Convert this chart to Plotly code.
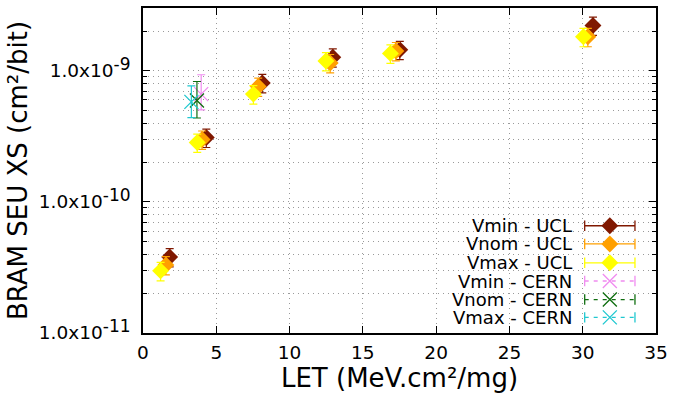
import plotly.graph_objects as go
import numpy as np

# ---------------- data ----------------
let_vmin_ucl = [1.82, 4.32, 8.14, 12.95, 17.52, 30.70]
xs_vmin_ucl = [3.8e-11, 3.1e-10, 8.1e-10, 1.27e-9, 1.45e-9, 2.22e-9]
let_vnom_ucl = [1.56, 4.03, 7.86, 12.77, 17.25, 30.35]
xs_vnom_ucl = [3.3e-11, 3.0e-10, 7.6e-10, 1.15e-9, 1.42e-9, 1.82e-9]
let_vmax_ucl = [1.20, 3.70, 7.53, 12.48, 16.88, 30.05]
xs_vmax_ucl = [2.98e-11, 2.84e-10, 6.65e-10, 1.19e-9, 1.36e-9, 1.82e-9]
ucl_rel_err = 0.16

let_vmin_cern = [3.97]
xs_vmin_cern = [6.65e-10]
err_up_vmin_cern = [2.7e-10]
err_dn_vmin_cern = [1.6e-10]
let_vnom_cern = [3.68]
xs_vnom_cern = [5.95e-10]
err_up_vnom_cern = [2.35e-10]
err_dn_vnom_cern = [1.58e-10]
let_vmax_cern = [3.30]
xs_vmax_cern = [5.8e-10]
err_up_vmax_cern = [1.9e-10]
err_dn_vmax_cern = [1.4e-10]

series_names = ["Vmin - UCL", "Vnom - UCL", "Vmax - UCL",
                "Vmin - CERN", "Vnom - CERN", "Vmax - CERN"]
x_ticks = [0, 5, 10, 15, 20, 25, 30, 35]
y_major = [1e-11, 1e-10, 1e-9]
y_exps = ["-11", "-10", "-9"]

# ---------------- styles ----------------
FONT = "DejaVu Sans"
c_vmin_ucl = "#801800"
c_vnom_ucl = "#ffa000"
c_vmax_ucl = "#ffff00"
c_vmin_cern = "#f08cf0"
c_vnom_cern = "#106e10"
c_vmax_cern = "#20c8d0"

y_major_text = ["1.0x10<sup><span style='font-size:17px'>%s</span></sup>" % e for e in y_exps]

fig = go.Figure()

ucl = [
    (let_vmin_ucl, xs_vmin_ucl, c_vmin_ucl, series_names[0]),
    (let_vnom_ucl, xs_vnom_ucl, c_vnom_ucl, series_names[1]),
    (let_vmax_ucl, xs_vmax_ucl, c_vmax_ucl, series_names[2]),
]
for lx, ly, col, name in ucl:
    err = [v * ucl_rel_err for v in ly]
    fig.add_trace(go.Scatter(
        x=lx, y=ly, mode="markers", name=name, showlegend=False,
        marker=dict(symbol="diamond", size=13, color=col, line=dict(width=0)),
        error_y=dict(type="data", array=err, visible=True, color=col,
                     thickness=1.2, width=4),
    ))

cern = [
    (let_vmin_cern, xs_vmin_cern, err_up_vmin_cern, err_dn_vmin_cern, c_vmin_cern, series_names[3]),
    (let_vnom_cern, xs_vnom_cern, err_up_vnom_cern, err_dn_vnom_cern, c_vnom_cern, series_names[4]),
    (let_vmax_cern, xs_vmax_cern, err_up_vmax_cern, err_dn_vmax_cern, c_vmax_cern, series_names[5]),
]
for lx, ly, eu, ed, col, name in cern:
    fig.add_trace(go.Scatter(
        x=lx, y=ly, mode="markers", name=name, showlegend=False,
        marker=dict(symbol="x-thin-open", size=14, color=col,
                    line=dict(width=1.3, color=col)),
        error_y=dict(type="data", symmetric=False, array=eu, arrayminus=ed,
                     visible=True, color=col, thickness=1.2, width=4),
    ))

# ---------------- legend (gnuplot style: text left, sample right) ----------------
leg_rows = [0.330, 0.274, 0.216, 0.160, 0.103, 0.048]
leg_text_x = 0.838
leg_x0, leg_x1, leg_xm = 0.861, 0.959, 0.910
leg_cols = [c_vmin_ucl, c_vnom_ucl, c_vmax_ucl, c_vmin_cern, c_vnom_cern, c_vmax_cern]
cap_h = 0.016
for i, (yy, col, name) in enumerate(zip(leg_rows, leg_cols, series_names)):
    fig.add_annotation(x=leg_text_x, y=yy, xref="paper", yref="paper",
                       text=name, showarrow=False, xanchor="right", yanchor="middle",
                       borderpad=0,
                       font=dict(family=FONT, size=18, color="black"))
    dash = "solid" if i < 3 else "4px,5px"
    fig.add_shape(type="line", xref="paper", yref="paper",
                  x0=leg_x0, x1=leg_x1, y0=yy, y1=yy,
                  line=dict(color=col, width=1.3, dash=dash))
    for cx in (leg_x0, leg_x1):
        fig.add_shape(type="line", xref="paper", yref="paper",
                      x0=cx, x1=cx, y0=yy - cap_h, y1=yy + cap_h,
                      line=dict(color=col, width=1.3))
    if i < 3:
        mk = dict(symbol="diamond", size=13, color=col, line=dict(width=0))
    else:
        mk = dict(symbol="x-thin-open", size=14, color=col, line=dict(width=1.3, color=col))
    fig.add_trace(go.Scatter(x=[leg_xm], y=[yy], xaxis="x2", yaxis="y2",
                             mode="markers", marker=mk, showlegend=False,
                             hoverinfo="skip"))

minor_vals = []
for dec in (1e-11, 1e-10, 1e-9):
    for k in range(2, 10):
        v = k * dec
        if v <= 3.0e-9:
            minor_vals.append(v)

grid_col = "#9a9a9a"
grid_dash = "1px,4px"
fig.update_layout(
    width=674, height=395,
    margin=dict(l=143, r=13, t=6, b=62),
    paper_bgcolor="white", plot_bgcolor="white",
    font=dict(family=FONT, size=18, color="black"),
    showlegend=False,
    xaxis=dict(
        range=[0, 35], tickmode="array", tickvals=x_ticks,
        ticks="inside", ticklen=7, tickwidth=1.2, tickcolor="black",
        showline=True, linecolor="black", linewidth=1.5, mirror="allticks",
        showgrid=True, gridcolor=grid_col, griddash=grid_dash, gridwidth=1,
        zeroline=False, ticklabelstandoff=2,
        tickfont=dict(family=FONT, size=18.5),
        title=dict(text="LET (MeV.cm²/mg)", font=dict(family=FONT, size=26), standoff=0),
    ),
    yaxis=dict(
        type="log", range=[-11, np.log10(3.02e-9)],
        tickmode="array", tickvals=y_major, ticktext=y_major_text,
        ticks="inside", ticklen=7, tickwidth=1.2, tickcolor="black",
        showline=True, linecolor="black", linewidth=1.5, mirror="allticks",
        showgrid=True, gridcolor=grid_col, griddash=grid_dash, gridwidth=1,
        zeroline=False, ticklabelstandoff=7,
        tickfont=dict(family=FONT, size=18.5),
        minor=dict(tickmode="array", tickvals=minor_vals, ticks="inside",
                   ticklen=4, tickwidth=1.2, tickcolor="black",
                   showgrid=True, gridcolor=grid_col, griddash=grid_dash, gridwidth=1),
        title=dict(text="BRAM SEU XS (cm²/bit)", font=dict(family=FONT, size=26), standoff=4),
    ),
    xaxis2=dict(range=[0, 1], overlaying="x", visible=False, domain=[0, 1]),
    yaxis2=dict(range=[0, 1], overlaying="y", visible=False, domain=[0, 1]),
)

fig.write_html("out.html")
